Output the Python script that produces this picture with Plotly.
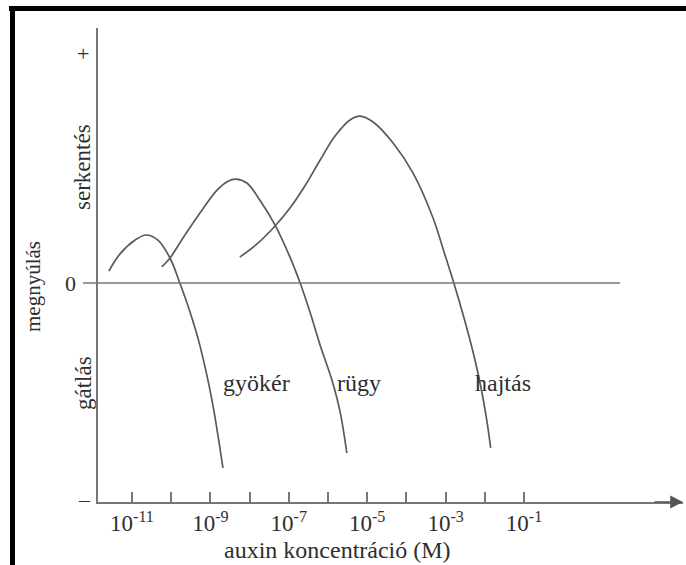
import plotly.graph_objects as go

# log10 of auxin concentration (M) and relative growth response (+1 = max stimulation)
root_x = [-11.59, -11.31, -10.92, -10.64, -10.34, -10.03, -9.78, -9.52, -9.27, -8.96, -8.68]
root_y = [0.052, 0.126, 0.187, 0.209, 0.187, 0.109, 0.0, -0.126, -0.270, -0.509, -0.804]

bud_x = [-10.24, -10.03, -9.65, -9.27, -8.83, -8.55, -8.35, -8.07, -7.74, -7.35, -6.97,
         -6.71, -6.46, -6.20, -5.90, -5.69, -5.52]
bud_y = [0.070, 0.109, 0.209, 0.304, 0.404, 0.443, 0.452, 0.435, 0.361, 0.252, 0.113,
         0.0, -0.126, -0.270, -0.422, -0.561, -0.739]

shoot_x = [-8.25, -7.81, -7.35, -6.97, -6.59, -6.20, -5.82, -5.44, -5.18, -4.85, -4.34,
           -3.83, -3.32, -3.04, -2.79, -2.53, -2.30, -2.10, -1.95, -1.85]
shoot_y = [0.113, 0.170, 0.248, 0.326, 0.422, 0.535, 0.639, 0.709, 0.726, 0.700, 0.609,
           0.478, 0.283, 0.135, 0.0, -0.152, -0.300, -0.452, -0.596, -0.717]

curve_names = ["gyökér", "rügy", "hajtás"]
label_x = [-8.73, -5.82, -2.30]
label_y = -0.435
decades = list(range(-11, 0))
tick_text = [f"10<sup>{d}</sup>" if d % 2 else "" for d in decades]

W, H = 686, 565
L, R, T, B = 98, 3, 28, 63
PW, PH = W - L - R, H - T - B
FONT = "Liberation Serif"
INK = "#2e2e2e"
LINE = "#5a5a5a"
AXIS = "#777777"


def px(x):
    return (x - L) / PW


def py(y):
    return (H - B - y) / PH


fig = go.Figure()
for xs, ys, name in zip([root_x, bud_x, shoot_x], [root_y, bud_y, shoot_y], curve_names):
    fig.add_trace(go.Scatter(
        x=xs, y=ys, mode="lines", name=name,
        line=dict(color=LINE, width=1.7, shape="spline", smoothing=1.0),
        showlegend=False, hoverinfo="skip"
    ))

# curve labels, right of the falling branch of each curve
for lx, name in zip(label_x, curve_names):
    fig.add_annotation(x=lx, y=label_y, text=name, showarrow=False,
                       xanchor="left", yanchor="middle",
                       font=dict(family=FONT, size=24, color=INK))

# zero line
fig.add_shape(type="line", xref="paper", yref="y", x0=px(83), x1=px(620), y0=0, y1=0,
              line=dict(color=AXIS, width=1.6))

# y side labels
for txt, yv, xpix in [("+", 1.0, 83), ("0", 0.0, 70), ("–", -0.943, 84)]:
    fig.add_annotation(xref="paper", yref="y", x=px(xpix), y=yv, text=txt, showarrow=False,
                       xanchor="center", yanchor="middle",
                       font=dict(family=FONT, size=22, color=INK))
for txt, ypix, xpix, size in [("megnyúlás", 287, 33, 21), ("serkentés", 167, 82, 23),
                              ("gátlás", 383, 83, 23)]:
    fig.add_annotation(xref="paper", yref="paper", x=px(xpix), y=py(ypix), text=txt,
                       textangle=-90, showarrow=False, xanchor="center", yanchor="middle",
                       font=dict(family=FONT, size=size, color=INK))

fig.add_annotation(xref="paper", yref="paper", x=px(337), y=py(550),
                   text="auxin koncentráció (M)", showarrow=False,
                   xanchor="center", yanchor="middle",
                   font=dict(family=FONT, size=24, color=INK))

# arrow on the x axis
fig.add_annotation(xref="paper", yref="paper", x=1.0, y=0, ax=-30, ay=0,
                   text="", showarrow=True, arrowhead=2, arrowsize=1.6,
                   arrowwidth=1.6, arrowcolor="#555555")

# black scan frame
fig.add_shape(type="rect", xref="paper", yref="paper", x0=px(9), x1=px(690),
              y0=py(11), y1=py(6), fillcolor="black", line_width=0)
fig.add_shape(type="rect", xref="paper", yref="paper", x0=px(10), x1=px(15),
              y0=py(570), y1=py(6), fillcolor="black", line_width=0)

fig.update_xaxes(
    range=[-11.867, 3.056], tickvals=decades, ticktext=tick_text,
    ticks="inside", ticklen=10, tickwidth=1.5, tickcolor=AXIS,
    showline=True, linecolor=AXIS, linewidth=1.6, showgrid=False, zeroline=False,
    tickfont=dict(family=FONT, size=23, color=INK)
)
fig.update_yaxes(
    range=[-0.952, 1.109], showticklabels=False, ticks="",
    showline=True, linecolor=AXIS, linewidth=1.6, showgrid=False, zeroline=False
)
fig.update_layout(
    width=W, height=H,
    margin=dict(l=L, r=R, t=T, b=B),
    paper_bgcolor="white", plot_bgcolor="white"
)

# the page's default body margin would shift the figure by 8px
fig.write_html("out.html", config={"displayModeBar": False},
               post_script="document.body.style.margin='0';")
